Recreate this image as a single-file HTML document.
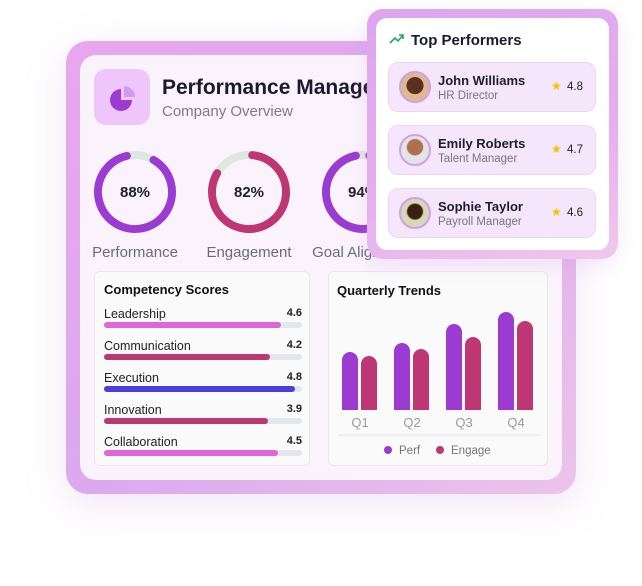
<!DOCTYPE html>
<html><head><style>
*{margin:0;padding:0;box-sizing:border-box}
body{width:642px;height:586px;background:#fff;position:relative;overflow:hidden;font-family:"Liberation Sans",sans-serif}
.a{position:absolute}
.outer{left:66px;top:41px;width:510px;height:453px;border-radius:22px;background:linear-gradient(135deg,#e8a6ee,#dca9ee 50%,#ecc4ea);box-shadow:0 10px 40px rgba(200,150,220,.25)}
.inner{left:80px;top:55px;width:482px;height:425px;border-radius:16px;background:#fbf3fc;overflow:hidden}
.box{background:#fafafa;border:1px solid #ece6ee;border-radius:6px}
.lbl{font-size:12.5px;color:#222}
.val{font-size:11px;font-weight:bold;color:#222}
.bar{height:6px;border-radius:3px;background:#e4e7ef}
.bar i{display:block;height:6px;border-radius:3px}
.row{left:388px;width:208px;height:50px;background:#f5e6fb;border:1px solid #f0d5f2;border-radius:10px}
.av{position:absolute;left:10px;top:8px;width:32px;height:32px;border-radius:50%;border:2px solid #cfa0ea}
.nm{position:absolute;left:49px;top:10px;font-size:13px;font-weight:bold;color:#1e1e2a}
.rl{position:absolute;left:49px;top:27px;font-size:11.5px;color:#777}
.st{position:absolute;left:162px;top:16px;font-size:12px;color:#f5c400}
.sv{position:absolute;left:178px;top:18px;font-size:11.5px;color:#222}
</style></head><body>
<div class="a outer"></div>
<div class="a inner">
  <div class="a" style="left:14px;top:14px;width:56px;height:56px;border-radius:12px;background:#efc6fb"></div>
  <svg class="a" style="left:14px;top:14px" width="56" height="56"><path d="M27 20 A11 11 0 1 0 38 31 L27 31 Z" fill="#9b3bd2"/><path d="M30 17 A11 11 0 0 1 41 28 L30 28 Z" fill="#d29ae8"/></svg>
  <div class="a" style="left:82px;top:21px;font-size:21px;font-weight:bold;color:#1a1a2e;white-space:nowrap">Performance Management</div>
  <div class="a" style="left:82px;top:48px;font-size:15px;color:#7a7a88;white-space:nowrap">Company Overview</div>
  <svg class="a" style="left:0;top:80px" width="482" height="135">
    <g fill="none" stroke-width="8">
      <circle cx="55" cy="57" r="37" stroke="#dce8e0"/>
      <circle cx="55" cy="57" r="37" stroke="#9b3bd2" stroke-dasharray="204.6 232.5" transform="rotate(-60 55 57)" stroke-linecap="round"/>
      <circle cx="169" cy="57" r="37" stroke="#dce8e0"/>
      <circle cx="169" cy="57" r="37" stroke="#bf3675" stroke-dasharray="190.6 232.5" transform="rotate(-85 169 57)" stroke-linecap="round"/>
      <circle cx="283" cy="57" r="37" stroke="#dce8e0"/>
      <circle cx="283" cy="57" r="37" stroke="#9b3bd2" stroke-dasharray="218.5 232.5" transform="rotate(-80 283 57)" stroke-linecap="round"/>
    </g>
    <g font-family="Liberation Sans" font-size="15" font-weight="bold" fill="#1e1e2e" text-anchor="middle">
      <text x="55" y="62">88%</text><text x="169" y="62">82%</text><text x="283" y="62">94%</text>
    </g>
    <g font-family="Liberation Sans" font-size="15" fill="#6b6b78" text-anchor="middle">
      <text x="55" y="122">Performance</text><text x="169" y="122">Engagement</text><text x="283" y="122">Goal Alignment</text>
    </g>
  </svg>
  <div class="a box" style="left:14px;top:216px;width:216px;height:195px">
    <div class="a" style="left:9px;top:10px;font-size:13px;font-weight:bold;color:#111">Competency Scores</div>
    <div class="a" style="left:9px;top:33px;width:198px">
      <div style="height:32px;position:relative"><span class="lbl">Leadership</span><span class="val a" style="right:0;top:2px">4.6</span><div class="bar a" style="top:17px;width:198px"><i style="width:177px;background:#e065d8"></i></div></div>
      <div style="height:32px;position:relative"><span class="lbl">Communication</span><span class="val a" style="right:0;top:2px">4.2</span><div class="bar a" style="top:17px;width:198px"><i style="width:166px;background:#bf3675"></i></div></div>
      <div style="height:32px;position:relative"><span class="lbl">Execution</span><span class="val a" style="right:0;top:2px">4.8</span><div class="bar a" style="top:17px;width:198px"><i style="width:191px;background:#4a40d8"></i></div></div>
      <div style="height:32px;position:relative"><span class="lbl">Innovation</span><span class="val a" style="right:0;top:2px">3.9</span><div class="bar a" style="top:17px;width:198px"><i style="width:164px;background:#bf3675"></i></div></div>
      <div style="height:32px;position:relative"><span class="lbl">Collaboration</span><span class="val a" style="right:0;top:2px">4.5</span><div class="bar a" style="top:17px;width:198px"><i style="width:174px;background:#e065d8"></i></div></div>
    </div>
  </div>
  <div class="a box" style="left:248px;top:216px;width:220px;height:195px">
    <div class="a" style="left:8px;top:11px;font-size:13px;font-weight:bold;color:#111">Quarterly Trends</div>
    <svg class="a" style="left:0;top:0" width="220" height="195">
      <g fill="#9b3bd2"><rect x="13" y="80" width="16" height="58" rx="8"/><rect x="65" y="71" width="16" height="67" rx="8"/><rect x="117" y="52" width="16" height="86" rx="8"/><rect x="169" y="40" width="16" height="98" rx="8"/></g>
      <g fill="#bf3675"><rect x="32" y="84" width="16" height="54" rx="8"/><rect x="84" y="77" width="16" height="61" rx="8"/><rect x="136" y="65" width="16" height="73" rx="8"/><rect x="188" y="49" width="16" height="89" rx="8"/></g>
      <rect x="13" y="130" width="191" height="8" fill="#fafafa"/>
      <g fill="#9b3bd2"><rect x="13" y="128" width="16" height="10"/><rect x="65" y="128" width="16" height="10"/><rect x="117" y="128" width="16" height="10"/><rect x="169" y="128" width="16" height="10"/></g>
      <g fill="#bf3675"><rect x="32" y="128" width="16" height="10"/><rect x="84" y="128" width="16" height="10"/><rect x="136" y="128" width="16" height="10"/><rect x="188" y="128" width="16" height="10"/></g>
      <g font-family="Liberation Sans" font-size="13" fill="#999" text-anchor="middle"><text x="31" y="155">Q1</text><text x="83" y="155">Q2</text><text x="135" y="155">Q3</text><text x="187" y="155">Q4</text></g>
      <line x1="9" y1="163" x2="210" y2="163" stroke="#e4e4e8"/>
      <circle cx="59" cy="178" r="4" fill="#9b3bd2"/><text x="70" y="182" font-family="Liberation Sans" font-size="11.5" fill="#777">Perf</text>
      <circle cx="111" cy="178" r="4" fill="#bf3675"/><text x="122" y="182" font-family="Liberation Sans" font-size="11.5" fill="#777">Engage</text>
    </svg>
  </div>
</div>
<div class="a" style="left:367px;top:9px;width:251px;height:250px;border-radius:16px;background:linear-gradient(160deg,#dca5f0,#e6b0ee 60%,#f0c8ec);box-shadow:0 6px 20px rgba(200,150,220,.2)"></div>
<div class="a" style="left:376px;top:18px;width:233px;height:232px;border-radius:11px;background:#fff"></div>
<svg class="a" style="left:389px;top:33px" width="16" height="12"><polyline points="1,10 6,5 9,8 14,2" fill="none" stroke="#1fa85a" stroke-width="1.6"/><polyline points="10,2 14,2 14,6" fill="none" stroke="#1fa85a" stroke-width="1.6"/></svg>
<div class="a" style="left:411px;top:32px;font-size:15px;font-weight:bold;color:#1a1a2e">Top Performers</div>
<div class="a row" style="top:62px"><div class="av" style="background:radial-gradient(circle at 50% 45%,#5a3020 40%,#e0b890 42%)"></div><div class="nm">John Williams</div><div class="rl">HR Director</div><div class="st">★</div><div class="sv">4.8</div></div>
<div class="a row" style="top:125px"><div class="av" style="background:radial-gradient(circle at 50% 40%,#b07050 35%,#e4e4e4 40%)"></div><div class="nm">Emily Roberts</div><div class="rl">Talent Manager</div><div class="st">★</div><div class="sv">4.7</div></div>
<div class="a row" style="top:188px"><div class="av" style="background:radial-gradient(circle at 50% 45%,#3a2010 35%,#d8d8b8 42%)"></div><div class="nm">Sophie Taylor</div><div class="rl">Payroll Manager</div><div class="st">★</div><div class="sv">4.6</div></div>
</body></html>
